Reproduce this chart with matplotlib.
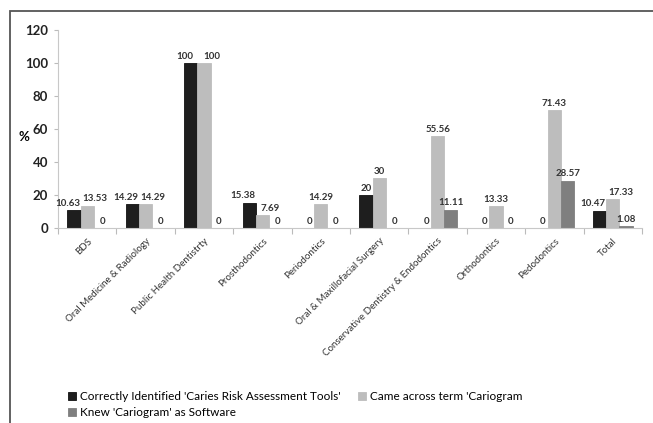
import numpy as np
from matplotlib import pyplot as plt
from matplotlib.patches import Rectangle

plt.rcParams['font.family'] = ['Lato', 'DejaVu Sans']

categories = ['BDS', 'Oral Medicine & Radiology', 'Public Health Dentistrty',
              'Prosthodontics', 'Periodontics', 'Oral & Maxillofacial Surgery',
              'Conservative Dentistry & Endodontics', 'Orthodontics',
              'Pedodontics', 'Total']
identified = [10.63, 14.29, 100, 15.38, 0, 20, 0, 0, 0, 10.47]
came_across = [13.53, 14.29, 100, 7.69, 14.29, 30, 55.56, 13.33, 71.43, 17.33]
knew_software = [0, 0, 0, 0, 0, 0, 11.11, 0, 28.57, 1.08]
value_labels = [
    ['10.63', '14.29', '100', '15.38', '0', '20', '0', '0', '0', '10.47'],
    ['13.53', '14.29', '100', '7.69', '14.29', '30', '55.56', '13.33', '71.43', '17.33'],
    ['0', '0', '0', '0', '0', '0', '11.11', '0', '28.57', '1.08'],
]
series_names = ["Correctly Identified 'Caries Risk Assessment Tools'",
                "Came across term 'Cariogram",
                "Knew 'Cariogram' as Software"]
colors = ['#1e1e1e', '#bdbdbd', '#7f7f7f']


def main():
    fig = plt.figure(figsize=(6.53, 4.23), dpi=100)
    # outer frame like the scanned figure
    fig.patches.append(Rectangle((10 / 653, -0.1), 1.2, 1 - 11 / 423 + 0.1,
                                 transform=fig.transFigure, fill=False,
                                 edgecolor='#555555', linewidth=1.3))
    ax = fig.add_axes([58 / 653, 1 - 228 / 423, 584 / 653, 198 / 423])

    x = np.arange(len(categories))
    w = 0.225
    series = [identified, came_across, knew_software]
    handles = []
    for i, vals in enumerate(series):
        pos = x + (i - 1) * w
        b = ax.bar(pos, vals, w, color=colors[i],
                   edgecolor='#111111' if i == 0 else colors[i], linewidth=0.6,
                   label=series_names[i])
        handles.append(b)
        for k, (p, v, t) in enumerate(zip(pos, vals, value_labels[i])):
            dx = 0
            # push labels apart when the first two bars have similar heights
            close = abs(identified[k] - came_across[k]) < 8 and identified[k] > 0
            if close and i == 0:
                dx = -0.11
            elif close and i == 1:
                dx = 0.13
            elif v == 0:
                dx = 0.03
            ax.text(p + dx, v + 1.5, t, ha='center', va='bottom',
                    fontsize=7, fontweight='bold', color='#333333')

    ax.set_xlim(-0.5, len(categories) - 0.5)
    ax.set_ylim(0, 120)
    ax.set_yticks(range(0, 121, 20))
    ax.tick_params(axis='y', labelsize=9.5, length=3, color='#bbbbbb', width=0.8,
                   pad=4)
    for t in ax.get_yticklabels():
        t.set_fontweight('bold')
        t.set_color('#222222')
    ax.set_xticks(x)
    ax.set_xticklabels(categories, rotation=45, ha='right', rotation_mode='anchor',
                       fontsize=7, color='#333333')
    ax.tick_params(axis='x', length=0, pad=6)
    ax.set_xticks(np.arange(-0.5, len(categories), 1), minor=True)
    ax.tick_params(axis='x', which='minor', length=4, color='#bbbbbb', width=0.8)

    for s in ['top', 'right']:
        ax.spines[s].set_visible(False)
    ax.spines['left'].set_color('#c8c8c8')
    ax.spines['bottom'].set_color('#c8c8c8')

    fig.text(24 / 653, 1 - 137 / 423, '%', fontsize=9.5, fontweight='bold',
             ha='center', va='center')

    order = [handles[0], handles[2], handles[1]]
    fig.legend(order, [h.get_label() for h in order], ncol=2,
               loc='upper left', bbox_to_anchor=(62 / 653, 1 - 385 / 423),
               frameon=False, fontsize=8.5, handlelength=0.7, handleheight=0.7,
               handletextpad=0.3, columnspacing=1.5, labelspacing=0.45,
               borderpad=0)

    plt.savefig('out.png', dpi=100)


if __name__ == '__main__':
    main()
